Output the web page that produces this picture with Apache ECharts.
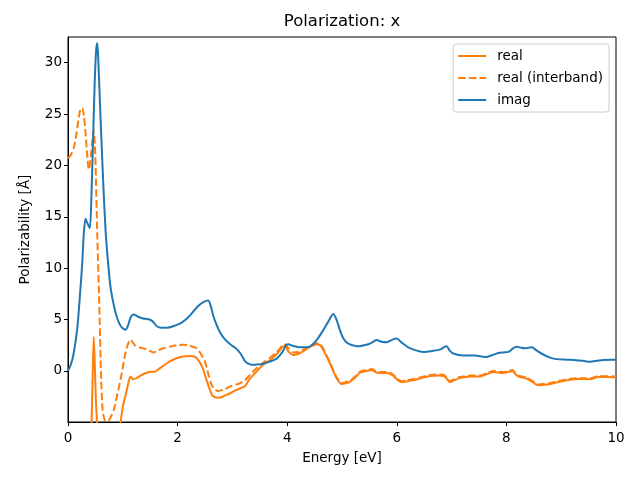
<!DOCTYPE html>
<html>
<head>
<meta charset="utf-8">
<script src="https://cdn.jsdelivr.net/npm/echarts@6/dist/echarts.min.js"></script>
<style>html,body{margin:0;padding:0;background:#fff}#c{width:640px;height:480px}</style>
</head>
<body>
<div id="c"></div>
<script>
const titleText = "Polarization: x";
const xLabel = "Energy [eV]";
const yLabel = "Polarizability [Å]";
const seriesNames = ["real", "real (interband)", "imag"];
const xTicks = [0, 2, 4, 6, 8, 10];
const yTicks = [0, 5, 10, 15, 20, 25, 30];

const imagE = [0,0.05,0.1,0.17,0.22,0.26,0.29,0.32,0.36,0.40,0.43,0.46,0.49,0.515,0.535,0.555,0.58,0.61,0.65,0.69,0.74,0.78,0.84,0.90,0.97,1.05,1.10,1.15,1.20,1.27,1.37,1.45,1.53,1.58,1.62,1.70,1.80,1.92,2.04,2.15,2.26,2.37,2.47,2.56,2.60,2.65,2.71,2.77,2.86,2.96,3.05,3.11,3.17,3.23,3.29,3.35,3.45,3.56,3.68,3.81,3.88,3.93,3.98,4.02,4.10,4.23,4.35,4.45,4.55,4.65,4.75,4.84,4.90,4.96,5.02,5.10,5.27,5.40,5.48,5.56,5.63,5.72,5.82,5.92,6.00,6.08,6.21,6.35,6.48,6.65,6.80,6.87,6.91,6.97,7.03,7.21,7.43,7.61,7.75,7.85,7.95,8.04,8.12,8.19,8.27,8.34,8.46,8.55,8.67,8.80,8.92,9.10,9.28,9.40,9.53,9.65,9.77,9.90,10.0];
const imagV = [0.0,0.6,1.6,4.2,7.5,10.5,13.5,14.8,14.3,13.9,17.5,23.0,28.5,31.3,31.9,30.0,26.5,22.5,17.5,13.3,10.0,8.0,6.3,5.1,4.3,4.0,4.5,5.3,5.5,5.3,5.1,5.05,4.9,4.6,4.35,4.2,4.2,4.35,4.6,5.0,5.6,6.3,6.7,6.85,6.4,5.4,4.5,3.8,3.1,2.6,2.25,1.95,1.5,0.95,0.7,0.6,0.62,0.7,0.9,1.2,1.6,2.0,2.5,2.6,2.45,2.3,2.3,2.5,3.1,3.9,4.8,5.55,5.0,4.0,3.2,2.7,2.4,2.5,2.6,2.8,3.0,2.85,2.8,3.05,3.15,2.8,2.3,2.0,1.85,1.95,2.1,2.35,2.4,1.95,1.7,1.5,1.5,1.35,1.55,1.75,1.8,1.85,2.2,2.35,2.25,2.2,2.3,2.0,1.6,1.3,1.15,1.1,1.05,0.98,0.9,0.98,1.07,1.08,1.08];

const realE = [0,0.2,0.35,0.40,0.43,0.45,0.47,0.49,0.51,0.535,0.56,0.62,0.70,0.80,0.90,0.96,1.00,1.05,1.10,1.14,1.19,1.25,1.31,1.40,1.50,1.59,1.66,1.74,1.85,1.98,2.10,2.23,2.30,2.35,2.41,2.47,2.53,2.59,2.63,2.68,2.77,2.86,2.96,3.05,3.14,3.23,3.30,3.37,3.44,3.56,3.69,3.80,3.87,3.93,3.98,4.02,4.11,4.20,4.29,4.40,4.54,4.62,4.70,4.78,4.84,4.90,4.99,5.07,5.15,5.25,5.33,5.45,5.54,5.61,5.68,5.82,5.88,5.94,6.02,6.09,6.20,6.30,6.45,6.61,6.75,6.86,6.91,6.97,7.05,7.15,7.34,7.52,7.65,7.76,7.94,8.04,8.11,8.16,8.22,8.37,8.48,8.58,8.70,8.80,9.04,9.28,9.53,9.68,9.85,10.0];
const realV = [-60,-30,-15,-9,-5,-0.5,3.3,0.5,-3,-5.5,-9,-14,-14,-11,-7.5,-5,-3.5,-2.4,-1.2,-0.55,-0.8,-0.7,-0.5,-0.25,-0.07,-0.07,0.2,0.5,0.9,1.24,1.4,1.46,1.4,1.24,0.8,0.1,-0.9,-1.85,-2.35,-2.56,-2.6,-2.4,-2.17,-1.9,-1.7,-1.5,-0.9,-0.45,-0.07,0.6,1.07,1.6,2.04,2.4,2.3,1.9,1.56,1.65,1.9,2.3,2.6,2.4,1.6,0.75,0.0,-0.7,-1.27,-1.2,-1.04,-0.6,-0.16,0.0,0.1,-0.1,-0.2,-0.2,-0.3,-0.5,-0.9,-1.1,-1.0,-0.9,-0.7,-0.5,-0.45,-0.5,-0.75,-1.1,-0.9,-0.7,-0.55,-0.55,-0.3,-0.1,-0.2,-0.1,0.0,-0.3,-0.55,-0.75,-1.1,-1.4,-1.35,-1.27,-0.97,-0.78,-0.8,-0.58,-0.6,-0.62];

const interE = [0,0.05,0.11,0.16,0.20,0.23,0.26,0.29,0.32,0.35,0.38,0.41,0.44,0.47,0.49,0.505,0.535,0.57,0.60,0.63,0.67,0.72,0.78,0.84,0.90,0.96,1.05,1.10,1.14,1.18,1.22,1.30,1.37,1.45,1.50,1.56,1.64,1.74,1.85,1.98,2.10,2.20,2.28,2.35,2.42,2.50,2.56,2.62,2.68,2.74,2.85,2.96,3.05,3.14,3.23,3.30,3.37,3.44,3.56,3.69,3.80,3.87,3.93,3.98,4.03,4.11,4.20,4.29,4.40,4.54,4.62,4.70,4.78,4.84,4.90,4.99,5.07,5.15,5.25,5.33,5.45,5.54,5.61,5.68,5.82,5.88,5.94,6.02,6.09,6.20,6.30,6.45,6.61,6.75,6.86,6.91,6.97,7.05,7.15,7.34,7.52,7.65,7.76,7.94,8.04,8.11,8.16,8.22,8.37,8.48,8.58,8.70,8.80,9.04,9.28,9.53,9.68,9.85,10.0];
const interV = [20.7,21.0,21.8,23.3,24.8,25.5,25.6,24.8,23.2,21.0,19.6,20.5,22.2,23.4,22.0,19.7,13.1,6.6,0.2,-3.7,-4.8,-4.9,-4.5,-3.7,-2.3,-0.8,1.8,2.7,3.05,2.8,2.5,2.3,2.2,2.1,1.95,1.8,2.0,2.2,2.35,2.5,2.55,2.5,2.35,2.2,1.7,0.9,-0.3,-1.36,-1.8,-1.95,-1.8,-1.5,-1.35,-1.2,-0.9,-0.5,-0.1,0.26,0.8,1.3,1.8,2.2,2.6,2.5,2.15,1.8,1.85,2.05,2.4,2.7,2.5,1.7,0.85,0.1,-0.6,-1.17,-1.1,-0.95,-0.5,-0.06,0.1,0.2,0.0,-0.1,-0.1,-0.2,-0.4,-0.8,-1.0,-0.9,-0.8,-0.6,-0.4,-0.35,-0.4,-0.65,-1.0,-0.8,-0.6,-0.45,-0.45,-0.2,0.0,-0.1,0.0,0.1,-0.2,-0.45,-0.65,-1.0,-1.3,-1.25,-1.17,-0.87,-0.7,-0.72,-0.5,-0.52,-0.54];

function pairs(xs, ys) { return xs.map((x, i) => [x, ys[i]]); }

const FONT = 'DejaVu Sans';
const chart = echarts.init(document.getElementById('c'), null, {renderer: 'canvas'});
chart.setOption({
  animation: false,
  backgroundColor: '#ffffff',
  textStyle: {fontFamily: FONT},
  grid: {left: 68, right: 24, top: 37, bottom: 58, show: true, borderColor: '#000', borderWidth: 1, backgroundColor: 'transparent'},
  graphic: [{
    type: 'text', x: 342, y: 22,
    style: {text: titleText, fontFamily: FONT, fontSize: 16.5, fill: '#000', align: 'center', verticalAlign: 'middle'}
  }],
  legend: {
    orient: 'vertical', right: 31, top: 44,
    itemWidth: 28, itemHeight: 14, itemGap: 8,
    padding: [5, 6, 5, 4],
    backgroundColor: 'rgba(255,255,255,0.8)', borderColor: '#cccccc', borderWidth: 1, borderRadius: 3,
    itemStyle: {opacity: 0},
    textStyle: {fontFamily: FONT, fontSize: 13.5, color: '#000', padding: [0, 0, 0, 6]},
    data: seriesNames
  },
  xAxis: {
    type: 'value', min: 0, max: 10, interval: 2,
    name: xLabel, nameLocation: 'middle', nameGap: 29,
    nameTextStyle: {fontFamily: FONT, fontSize: 13.5, color: '#000'},
    axisLine: {show: true, onZero: false, lineStyle: {color: '#000', width: 1}},
    axisTick: {show: true, length: 4, lineStyle: {color: '#000'}},
    axisLabel: {fontFamily: FONT, fontSize: 13.5, color: '#000', margin: 9, formatter: v => String(v)},
    splitLine: {show: false}
  },
  yAxis: {
    type: 'value', min: -4.97, max: 32.5,
    name: yLabel, nameLocation: 'middle', nameGap: 36,
    nameTextStyle: {fontFamily: FONT, fontSize: 13.5, color: '#000'},
    axisLine: {show: true, onZero: false, lineStyle: {color: '#000', width: 1}},
    axisTick: {show: true, length: 4, lineStyle: {color: '#000'}, customValues: yTicks},
    axisLabel: {fontFamily: FONT, fontSize: 13.5, color: '#000', margin: 6, customValues: yTicks, formatter: v => String(v)},
    splitLine: {show: false}
  },
  series: [
    {name: seriesNames[0], type: 'line', data: pairs(realE, realV), symbol: 'none', smooth: 0.25, clip: true,
     lineStyle: {color: '#ff7f0e', width: 2}, itemStyle: {color: '#ff7f0e'}, z: 2},
    {name: seriesNames[1], type: 'line', data: pairs(interE, interV), symbol: 'none', smooth: 0.25, clip: true,
     lineStyle: {color: '#ff7f0e', width: 2, type: [7.5, 3.2]}, itemStyle: {color: '#ff7f0e'}, z: 3},
    {name: seriesNames[2], type: 'line', data: pairs(imagE, imagV), symbol: 'none', smooth: 0.25, clip: true,
     lineStyle: {color: '#1f77b4', width: 2}, itemStyle: {color: '#1f77b4'}, z: 4}
  ]
});
</script>
</body>
</html>
